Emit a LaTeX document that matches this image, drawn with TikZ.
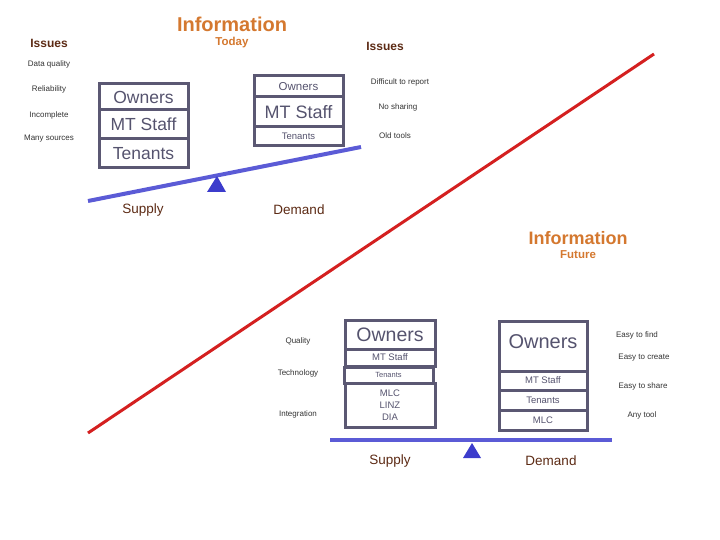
\documentclass[tikz,border=0pt]{standalone}
\usepackage{fontspec}
\setmainfont{Liberation Sans}
\usepackage{xcolor}
\usepackage{tikz}
\usetikzlibrary{arrows.meta,positioning}
\definecolor{cO}{HTML}{D4782F}
\definecolor{cI}{HTML}{5C2A14}
\definecolor{cB}{HTML}{5B5873}
\definecolor{cT}{HTML}{55536E}
\definecolor{cS}{HTML}{5B5BD6}
\definecolor{cF}{HTML}{3C3CCC}
\definecolor{cR}{HTML}{D42020}
\newcommand{\fs}[1]{\fontsize{#1}{#1}\selectfont}
\tikzset{cell/.style={draw=cB,line width=3pt,inner sep=0pt,text=cT,align=center},
  note/.style={font=\fs{8},text=black!80,inner sep=1pt},
  head/.style={font=\bfseries\fs{12},text=cI},
  title/.style={font=\bfseries\fs{#1},text=cO},
  side/.style={font=\fs{13.5},text=cI},
  beam/.style={line width=4pt,cS},
  pivot/.style={fill=cF}}

\begin{document}
\begin{tikzpicture}[x=1pt,y=-1pt]
  \useasboundingbox (0,0) rectangle (720,540);
  % today
  \node[title=20] (infT) at (232,24) {Information};
  \node[title=11.5] (today) at (232,43) {Today};
  \node[head] (issL) at (49,43) {Issues};
  \node[head] (issR) at (385,46) {Issues};
  \foreach \y/\t [count=\i] in {64/Data quality, 89/Reliability, 115/Incomplete, 139/Many sources}
    \node[note] (l\i) at (49,\y) {\t};
  \foreach \x/\y/\t [count=\i] in {400/82/Difficult to report, 398/107/No sharing, 395/136/Old tools}
    \node[note] (r\i) at (\x,\y) {\t};
  \node[cell,minimum width=89,minimum height=26,font=\fs{17.5}] (sOwn) at (143.5,97) {Owners};
  \node[cell,minimum width=89,minimum height=29,font=\fs{17.5}] (sMT) at (143.5,124.5) {MT Staff};
  \node[cell,minimum width=89,minimum height=29,font=\fs{17.5}] (sTen) at (143.5,153.5) {Tenants};
  \node[cell,minimum width=89,minimum height=21,font=\fs{11.5}] (dOwn) at (298.5,86.5) {Owners};
  \node[cell,minimum width=89,minimum height=30,font=\fs{18}] (dMT) at (298.5,112) {MT Staff};
  \node[cell,minimum width=89,minimum height=19,font=\fs{9.5}] (dTen) at (298.5,136.5) {Tenants};
  \draw[beam] (88,201) -- (361,147);
  \fill[pivot] (217,176) -- (226,192) -- (207,192) -- cycle;
  \node[side] (supT) at (143,210) {Supply};
  \node[side] (demT) at (299,210) {Demand};
  % trend
  \draw[line width=3pt,cR] (88,433) -- (654,54);
  % future
  \node[title=18] (infF) at (578,238) {Information};
  \node[title=11.5] (fut) at (578,255) {Future};
  \foreach \y/\t [count=\i] in {341/Quality, 373/Technology, 414/Integration}
    \node[note] (q\i) at (298,\y) {\t};
  \foreach \x/\y/\t [count=\i] in {637/335/Easy to find, 644/358/Easy to create, 643/386/Easy to share, 642/415/Any tool}
    \node[note] (e\i) at (\x,\y) {\t};
  \node[cell,minimum width=90,minimum height=29,font=\fs{19.5}] (aOwn) at (390,334.5) {Owners};
  \node[cell,minimum width=90,minimum height=17,font=\fs{9.5}] (aMT) at (390,357.5) {MT Staff};
  \node[cell,minimum width=89,minimum height=16,font=\fs{7.5}] (aTen) at (388.5,375) {Tenants};
  \node[cell,minimum width=90,minimum height=44,font=\fontsize{9.5}{12}\selectfont] (aSys) at (390,405) {MLC\\LINZ\\DIA};
  \node[cell,minimum width=88,minimum height=50,font=\fs{20}] (bOwn) at (543,346) {\raisebox{9pt}{Owners}};
  \node[cell,minimum width=88,minimum height=19,font=\fs{9.5}] (bMT) at (543,380.5) {MT Staff};
  \node[cell,minimum width=88,minimum height=20,font=\fs{9.5}] (bTen) at (543,400) {Tenants};
  \node[cell,minimum width=88,minimum height=20,font=\fs{9.5}] (bSys) at (543,420) {MLC};
  \draw[beam] (330,440) -- (612,440);
  \fill[pivot] (472,443) -- (481,458) -- (463,458) -- cycle;
  \node[side] (supF) at (390,461) {Supply};
  \node[side] (demF) at (551,461) {Demand};
\end{tikzpicture}
\end{document}
